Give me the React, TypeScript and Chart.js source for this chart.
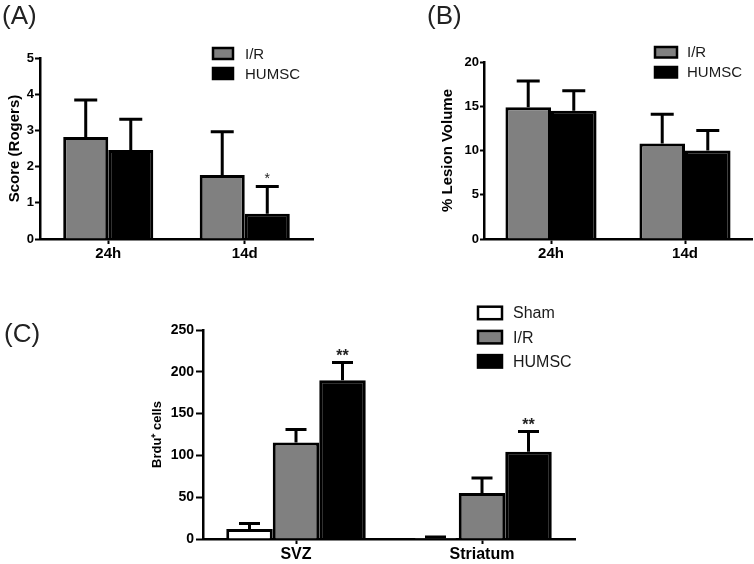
import React, { useEffect, useRef } from "react";
import { Chart, registerables } from "chart.js";

Chart.register(...registerables);

const FONT = "'Liberation Sans', Arial, Helvetica, sans-serif";

// ---------- Panel A: neurological score ----------
const categoriesA = ["24h", "14d"];
const irA = [2.82, 1.77];
const irErrA = [1.02, 1.19];
const humscA = [2.46, 0.7];
const humscErrA = [0.85, 0.75];
const sigA = ["", "*"];
const yTicksA = { min: 0, max: 5, step: 1 };

// ---------- Panel B: lesion volume ----------
const categoriesB = ["24h", "14d"];
const irB = [14.9, 10.8];
const irErrB = [2.95, 3.3];
const humscB = [14.5, 10.0];
const humscErrB = [2.25, 2.25];
const yTicksB = { min: 0, max: 20, step: 5 };

// ---------- Panel C: BrdU+ cells ----------
const categoriesC = ["SVZ", "Striatum"];
const shamC = [12, 1.2];
const shamErrC = [6.5, 1.2];
const irC = [115.5, 55];
const irErrC = [15.5, 18];
const humscC = [190, 104.5];
const humscErrC = [21, 24];
const sigC = ["**", "**"];
const yTicksC = { min: 0, max: 250, step: 50 };

const seriesNames = { sham: "Sham", ir: "I/R", humsc: "HUMSC" };
const colors = { sham: "#ffffff", ir: "#808080", humsc: "#000000" };

const errorBarPlugin = {
  id: "errorBars",
  afterDatasetsDraw(chart: any, _args: any, opts: any) {
    const ctx = chart.ctx;
    const y = chart.scales.y;
    chart.data.datasets.forEach((ds: any, di: number) => {
      const meta = chart.getDatasetMeta(di);
      meta.data.forEach((el: any, i: number) => {
        const v = ds.data[i];
        const e = ds.errors ? ds.errors[i] : 0;
        const top = y.getPixelForValue(v + e);
        ctx.save();
        ctx.strokeStyle = "#000";
        ctx.lineWidth = opts.lineWidth;
        ctx.lineCap = "butt";
        ctx.beginPath();
        ctx.moveTo(el.x, el.y);
        ctx.lineTo(el.x, top);
        ctx.moveTo(el.x - opts.capHalf, top);
        ctx.lineTo(el.x + opts.capHalf, top);
        ctx.stroke();
        if (ds.sig && ds.sig[i]) {
          ctx.fillStyle = "#222";
          ctx.font = opts.sigFont;
          ctx.textAlign = "center";
          ctx.textBaseline = "alphabetic";
          ctx.fillText(ds.sig[i], el.x, top - opts.sigGap + 0.575 * opts.sigSize);
        }
        ctx.restore();
      });
    });
  },
};

const boxLegendPlugin = {
  id: "boxLegend",
  afterDraw(chart: any, _args: any, o: any) {
    const ctx = chart.ctx;
    chart.data.datasets.forEach((ds: any, i: number) => {
      const bx = o.x;
      const by = o.y + i * o.gap;
      ctx.save();
      ctx.fillStyle = ds.backgroundColor;
      ctx.fillRect(bx, by, o.boxW, o.boxH);
      ctx.strokeStyle = "#000";
      ctx.lineWidth = 2.5;
      ctx.strokeRect(bx, by, o.boxW, o.boxH);
      ctx.fillStyle = "#1a1a1a";
      ctx.font = o.font;
      ctx.textAlign = "left";
      ctx.textBaseline = "middle";
      ctx.fillText(ds.label, bx + o.textDx, by + o.boxH / 2 + 1);
      ctx.restore();
    });
  },
};

function makeConfig(p: any) {
  return {
    type: "bar",
    data: { labels: p.labels, datasets: p.datasets },
    plugins: [errorBarPlugin, boxLegendPlugin],
    options: {
      animation: false,
      responsive: false,
      devicePixelRatio: 1,
      layout: { padding: p.pad },
      datasets: {
        bar: {
          barPercentage: 1,
          categoryPercentage: p.catPct,
          borderColor: "#000",
          borderWidth: 3,
          borderSkipped: "start",
        },
      },
      plugins: {
        legend: { display: false },
        tooltip: { enabled: false },
        errorBars: {
          capHalf: p.capHalf,
          lineWidth: 3,
          sigFont: p.sigFont,
          sigSize: p.sigSize,
          sigGap: p.sigGap,
        },
        boxLegend: p.legend,
      },
      scales: {
        x: {
          type: "category",
          grid: {
            display: true,
            drawOnChartArea: false,
            drawTicks: true,
            offset: false,
            tickLength: 5,
            tickWidth: 2,
            tickColor: "#000",
          },
          border: { display: true, color: "#000", width: 2.5 },
          ticks: {
            color: "#000",
            font: { family: FONT, size: p.xFontSize, weight: "bold" },
            padding: p.xPad,
            maxRotation: 0,
          },
          afterFit: (s: any) => {
            s.height = p.xHeight;
          },
        },
        y: {
          min: p.yTicks.min,
          max: p.yTicks.max,
          ticks: {
            stepSize: p.yTicks.step,
            color: "#000",
            font: { family: FONT, size: p.yFontSize, weight: "bold" },
            padding: p.yTickPad,
          },
          grid: {
            display: true,
            drawOnChartArea: false,
            drawTicks: true,
            tickLength: p.yTickLen,
            tickWidth: 2,
            tickColor: "#000",
          },
          border: { display: true, color: "#000", width: 2.5 },
          title: {
            display: true,
            text: p.yTitle,
            color: "#000",
            font: { family: FONT, size: p.titleSize, weight: "bold" },
            padding: { top: p.titlePad, bottom: 0 },
          },
          afterFit: (s: any) => {
            s.width = p.yWidth;
          },
        },
      },
    },
  };
}

function ChartPanel({ config, left, top, width, height }: any) {
  const ref = useRef<HTMLCanvasElement>(null);
  useEffect(() => {
    const chart = new Chart(ref.current as HTMLCanvasElement, config);
    return () => chart.destroy();
  }, []);
  return (
    <div style={{ position: "absolute", left, top, width, height }}>
      <canvas ref={ref} width={width} height={height} style={{ width, height, display: "block" }} />
    </div>
  );
}

const labelStyle: React.CSSProperties = {
  position: "absolute",
  fontFamily: FONT,
  fontSize: 26,
  lineHeight: "26px",
  color: "#222",
  whiteSpace: "nowrap",
};

export default function App() {
  const configA = makeConfig({
    labels: categoriesA,
    datasets: [
      { label: seriesNames.ir, data: irA, errors: irErrA, backgroundColor: colors.ir },
      { label: seriesNames.humsc, data: humscA, errors: humscErrA, sig: sigA, backgroundColor: colors.humsc },
    ],
    yTicks: yTicksA,
    yTitle: "Score (Rogers)",
    catPct: 0.66,
    pad: { left: 0, top: 58, right: 64, bottom: 0 },
    yWidth: 40,
    xHeight: 31,
    xFontSize: 15,
    xPad: 1,
    yFontSize: 13,
    yTickLen: 5,
    yTickPad: 1,
    titleSize: 15,
    titlePad: 6,
    capHalf: 11.5,
    sigFont: `14px ${FONT}`,
    sigSize: 14,
    sigGap: 11.7,
    legend: { x: 213, y: 48, gap: 20, boxW: 20, boxH: 11, textDx: 32, font: `15px ${FONT}` },
  });

  const configB = makeConfig({
    labels: categoriesB,
    datasets: [
      { label: seriesNames.ir, data: irB, errors: irErrB, backgroundColor: colors.ir },
      { label: seriesNames.humsc, data: humscB, errors: humscErrB, backgroundColor: colors.humsc },
    ],
    yTicks: yTicksB,
    yTitle: "% Lesion Volume",
    catPct: 0.68,
    pad: { left: 57, top: 62, right: 2, bottom: 0 },
    yWidth: 50,
    xHeight: 31,
    xFontSize: 15,
    xPad: 1,
    yFontSize: 13,
    yTickLen: 4,
    yTickPad: 1,
    titleSize: 15,
    titlePad: 5,
    capHalf: 11.5,
    sigFont: `14px ${FONT}`,
    sigSize: 14,
    sigGap: 11.7,
    legend: { x: 278, y: 47, gap: 20, boxW: 22, boxH: 10.5, textDx: 32, font: `15px ${FONT}` },
  });

  const configC = makeConfig({
    labels: categoriesC,
    datasets: [
      { label: seriesNames.sham, data: shamC, errors: shamErrC, backgroundColor: colors.sham },
      { label: seriesNames.ir, data: irC, errors: irErrC, backgroundColor: colors.ir },
      { label: seriesNames.humsc, data: humscC, errors: humscErrC, sig: sigC, backgroundColor: colors.humsc },
    ],
    yTicks: yTicksC,
    yTitle: "Brdu\u207A cells",
    catPct: 0.75,
    pad: { left: 143, top: 60, right: 179, bottom: 0 },
    yWidth: 60,
    xHeight: 25,
    xFontSize: 16,
    xPad: 1,
    yFontSize: 14,
    yTickLen: 7,
    yTickPad: 2,
    titleSize: 13,
    titlePad: 7,
    capHalf: 10.5,
    sigFont: `bold 16px ${FONT}`,
    sigSize: 16,
    sigGap: 10.6,
    legend: { x: 478, y: 36.7, gap: 24.2, boxW: 24, boxH: 12.5, textDx: 35, font: `16px ${FONT}` },
  });

  return (
    <div style={{ position: "fixed", left: 0, top: 0, width: 754, height: 564, background: "#fff", overflow: "hidden" }}>
      <ChartPanel config={configA} left={0} top={0} width={377} height={270} />
      <ChartPanel config={configB} left={377} top={0} width={377} height={270} />
      <ChartPanel config={configC} left={0} top={270} width={754} height={294} />
      <div style={{ ...labelStyle, left: 2, top: 2 }}>(A)</div>
      <div style={{ ...labelStyle, left: 427, top: 2 }}>(B)</div>
      <div style={{ ...labelStyle, left: 4, top: 320 }}>(C)</div>
    </div>
  );
}
